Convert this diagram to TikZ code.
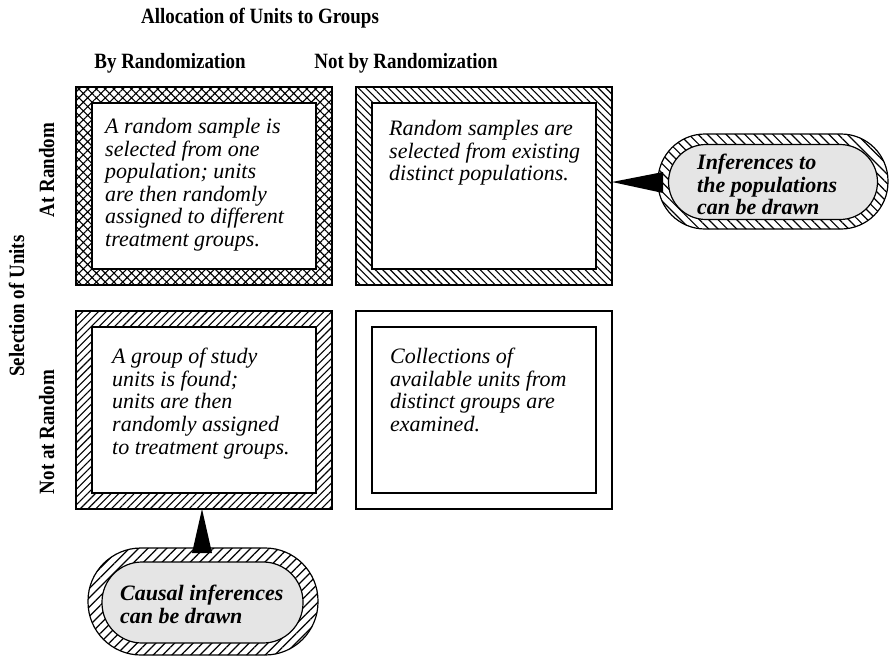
\documentclass[tikz,border=0pt]{standalone}
\usepackage{fontspec}
\setmainfont{Liberation Serif}
\newfontfamily\headfont[FakeStretch=0.87]{Liberation Serif}
\usetikzlibrary{patterns.meta,backgrounds}
\tikzset{
  outerbox/.style={draw, line width=1.2pt, minimum width=256pt, minimum height=198pt, inner sep=0pt, outer sep=0pt},
  innerbox/.style={draw, fill=white, line width=1.2pt, minimum width=224pt, minimum height=166pt, inner sep=0pt, outer sep=0pt},
  bodytext/.style={anchor=north west, align=left, inner sep=0pt, font=\fontsize{22}{22.6}\selectfont\itshape},
  bubtext/.style={anchor=north west, align=left, inner sep=0pt, font=\fontsize{22}{22.4}\selectfont\bfseries\itshape},
  headtext/.style={anchor=base, inner sep=0pt, font=\headfont\fontsize{21.8}{24}\selectfont\bfseries},
  crosshatch/.style={pattern={Hatch[angle=45,distance=6.2pt,line width=1.1pt]}},
  backhatch/.style={pattern={Lines[angle=-45,distance=5.3pt,line width=1.1pt]}},
  forehatch/.style={pattern={Lines[angle=45,distance=5.5pt,line width=1.1pt]}},
  bubback/.style={pattern={Lines[angle=-45,distance=6.6pt,line width=1.2pt]}},
  bubfore/.style={pattern={Lines[angle=45,distance=6.6pt,line width=1.2pt]}},
  bubouter/.style={draw, line width=1.2pt, inner sep=0pt, outer sep=0pt},
  bubinner/.style={draw, line width=1.2pt, fill=black!10, inner sep=0pt, outer sep=0pt},
  pointer/.style={fill=black}
}
\begin{document}
\begin{tikzpicture}[x=1pt,y=-1pt]
\useasboundingbox (0,0) rectangle (889,659);

% headers
\node[headtext] (title) at (260,23) {Allocation of Units to Groups};
\node[headtext] (colA) at (170,68) {By Randomization};
\node[headtext] (colB) at (406,68) {Not by Randomization};
\node[headtext, rotate=90] (sel) at (24,306) {Selection of Units};
\node[headtext, rotate=90] (rowA) at (54,170) {At Random};
\node[headtext, rotate=90] (rowB) at (54,432) {Not at Random};

% boxes
\node[outerbox, crosshatch] (b1o) at (204,186) {};
\node[innerbox] (b1) at (204,186) {};
\node[outerbox, backhatch] (b2o) at (484,186) {};
\node[innerbox] (b2) at (484,186) {};
\node[outerbox, forehatch] (b3o) at (204,410) {};
\node[innerbox] (b3) at (204,410) {};
\node[outerbox, fill=white] (b4o) at (484,410) {};
\node[innerbox] (b4) at (484,410) {};

\node[bodytext] (t1) at (105,118) {A random sample is\\selected from one\\population; units\\are then randomly\\assigned to different\\treatment groups.};
\node[bodytext] (t2) at (389,120) {Random samples are\\selected from existing\\distinct populations.};
\node[bodytext] (t3) at (112,348) {A group of study\\units is found;\\units are then\\randomly assigned\\to treatment groups.};
\node[bodytext] (t4) at (390,348) {Collections of\\available units from\\distinct groups are\\examined.};

% bubbles
\node[bubouter, bubback, rounded corners=47pt, minimum width=230pt, minimum height=95pt] (p1o) at (773,181.5) {};
\node[bubinner, rounded corners=37.5pt, minimum width=209pt, minimum height=75pt] (p1) at (773,182) {};
\node[bubtext] (pt1) at (697,154) {Inferences to\\the populations\\can be drawn};

\node[bubouter, bubfore, rounded corners=53pt, minimum width=230pt, minimum height=107pt] (p2o) at (203,601.5) {};
\node[bubinner, rounded corners=40pt, minimum width=201pt, minimum height=81pt] (p2) at (202.5,602.5) {};
\node[bubtext] (pt2) at (120,585) {Causal inferences\\can be drawn};

% pointers (behind the bubbles)
\begin{scope}[on background layer]
\fill[pointer] ([yshift=4pt]b2o.east) -- ([xshift=5pt,yshift=9.5pt]p1o.west) -- ([xshift=5pt,yshift=-11.5pt]p1o.west) -- cycle;
\fill[pointer] ([xshift=-2pt]b3o.south) -- ([xshift=-11pt,yshift=-5pt]p2o.north) -- ([xshift=9pt,yshift=-5pt]p2o.north) -- cycle;
\end{scope}
\end{tikzpicture}
\end{document}
